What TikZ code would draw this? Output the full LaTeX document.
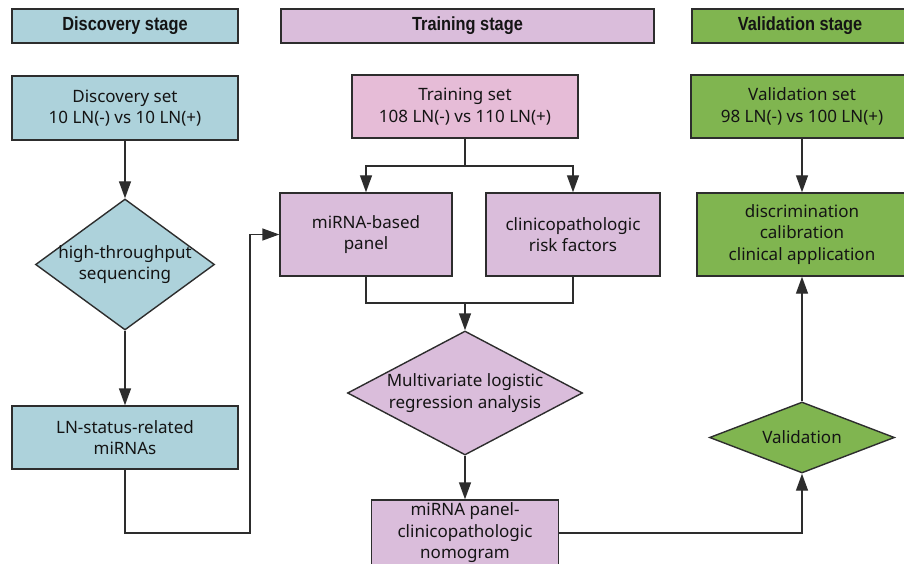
\documentclass[tikz,border=0pt]{standalone}
\usepackage{fontspec}
\setmainfont{Noto Sans}
\newfontfamily\hfont{Liberation Sans}[FakeStretch=0.86]
\usetikzlibrary{arrows.meta,shapes.geometric}
\definecolor{cblue}{RGB}{173,210,219}
\definecolor{cpurp}{RGB}{218,189,219}
\definecolor{cpink}{RGB}{230,188,215}
\definecolor{cgreen}{RGB}{128,181,80}
\definecolor{cline}{RGB}{45,45,45}
\definecolor{ctext}{RGB}{20,20,20}
\tikzset{
  base/.style={draw=cline,line width=1.4pt,text=ctext,inner sep=2pt,align=center,
    font=\fontsize{17}{21.5}\selectfont},
  hdr/.style={base,minimum height=34pt,font=\hfont\bfseries\fontsize{19}{22}\selectfont},
  box/.style={base,rectangle},
  dia/.style={base,diamond,inner sep=0pt},
  lbl/.style={text=ctext,align=center,inner sep=0pt,font=\fontsize{17}{21.5}\selectfont},
  conn/.style={draw=cline,line width=1.4pt},
  arr/.style={conn,-{Triangle[length=17pt,width=12pt]}}
}
\begin{document}
\begin{tikzpicture}[x=1pt,y=-1pt]
\useasboundingbox (0,0) rectangle (904,564);
% headers
\node[hdr,fill=cblue,minimum width=226pt] (dh) at (125,26) {Discovery stage};
\node[hdr,fill=cpurp,minimum width=373pt] (th) at (467.5,26) {Training stage};
\node[hdr,fill=cgreen,minimum width=216pt] (vh) at (800,26) {Validation stage};
% discovery column
\node[box,fill=cblue,minimum width=226pt,minimum height=64pt] (dset) at (125,108) {Discovery set\\10 LN(-) vs 10 LN(+)};
\node[dia,fill=cblue,minimum width=179pt,minimum height=131pt] (hts) at (125,264.5) {};
\node[lbl] (htst) at (hts.center) {high-throughput\\sequencing};
\node[box,fill=cblue,minimum width=226pt,minimum height=63pt] (lnm) at (125,437.5) {LN-status-related\\miRNAs};
% training column
\node[box,fill=cpink,minimum width=226pt,minimum height=63pt] (tset) at (465,106.5) {Training set\\108 LN(-) vs 110 LN(+)};
\node[box,fill=cpurp,minimum width=172pt,minimum height=83pt] (mbp) at (366,234.5) {miRNA-based\\panel};
\node[box,fill=cpurp,minimum width=174pt,minimum height=83pt] (crf) at (573,234.5) {clinicopathologic\\risk factors};
\node[dia,fill=cpurp,minimum width=235pt,minimum height=124pt] (mlr) at (465,393) {};
\node[lbl] (mlrt) at (mlr.center) {Multivariate logistic\\regression analysis};
\node[box,fill=cpurp,minimum width=187pt,minimum height=66pt] (nom) at (465,533) {miRNA panel-\\clinicopathologic\\nomogram};
% validation column
\node[box,fill=cgreen,minimum width=222pt,minimum height=63pt] (vset) at (802,106.5) {Validation set\\98 LN(-) vs 100 LN(+)};
\node[box,fill=cgreen,minimum width=210pt,minimum height=83pt] (dcc) at (802,234.5) {discrimination\\calibration\\clinical application};
\node[dia,fill=cgreen,minimum width=185pt,minimum height=71pt] (val) at (802,437.5) {};
\node[lbl] (valt) at (val.center) {Validation};
% helper coordinates
\coordinate (c1) at (250,533);
\coordinate (split) at (465,166);
\coordinate (merge) at (465,303);
% connectors
\draw[arr] (dset.south) -- (hts.north);
\draw[arr] (hts.south) -- (lnm.north);
\draw[arr] (lnm.south) |- (c1) |- (mbp.west);
\draw[conn] (tset.south) -- (split);
\draw[arr] (split) -| (mbp.north);
\draw[arr] (split) -| (crf.north);
\draw[conn] (mbp.south) |- (merge) -| (crf.south);
\draw[arr] (merge) -- (mlr.north);
\draw[arr] (mlr.south) -- (nom.north);
\draw[arr] (nom.east) -| (val.south);
\draw[arr] (val.north) -- (dcc.south);
\draw[arr] (vset.south) -- (dcc.north);
\end{tikzpicture}
\end{document}
